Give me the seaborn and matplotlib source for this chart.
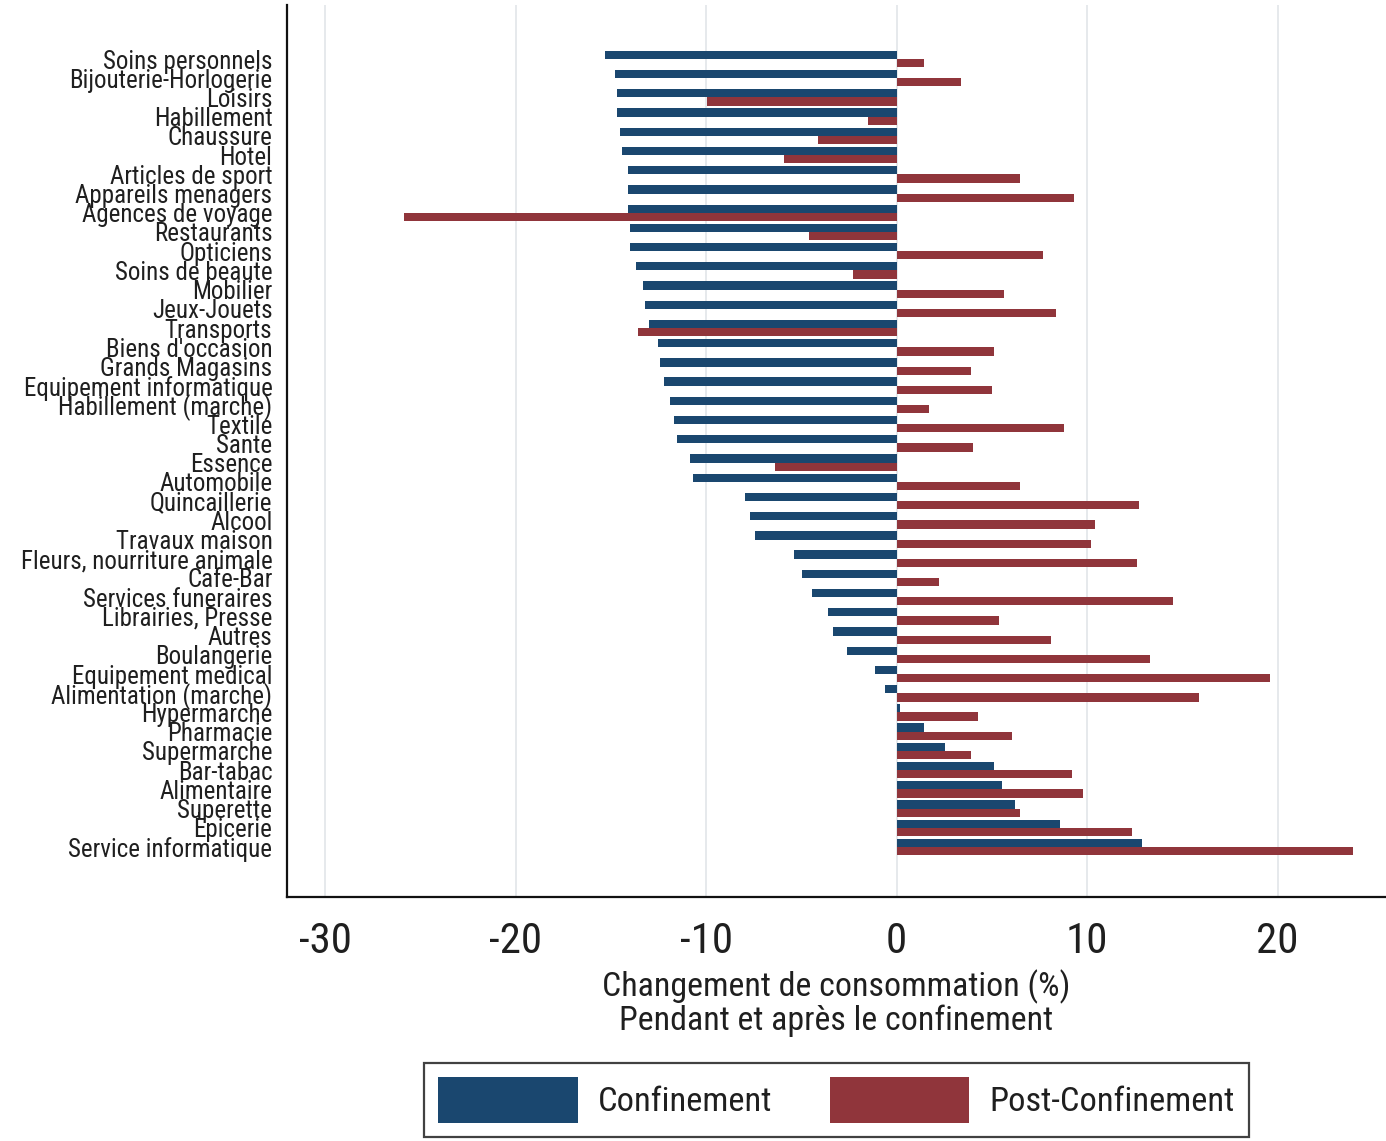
import matplotlib
matplotlib.use("Agg")
import matplotlib.pyplot as plt
from matplotlib import font_manager
import seaborn as sns
import pandas as pd

categories = [
    "Soins personnels", "Bijouterie-Horlogerie", "Loisirs", "Habillement", "Chaussure",
    "Hotel", "Articles de sport", "Appareils menagers", "Agences de voyage", "Restaurants",
    "Opticiens", "Soins de beaute", "Mobilier", "Jeux-Jouets", "Transports",
    "Biens d'occasion", "Grands Magasins", "Equipement informatique", "Habillement (marche)",
    "Textile", "Sante", "Essence", "Automobile", "Quincaillerie", "Alcool",
    "Travaux maison", "Fleurs, nourriture animale", "Cafe-Bar", "Services funeraires",
    "Librairies, Presse", "Autres", "Boulangerie", "Equipement medical",
    "Alimentation (marche)", "Hypermarche", "Pharmacie", "Supermarche", "Bar-tabac",
    "Alimentaire", "Superette", "Epicerie", "Service informatique",
]

confinement = [
    -15.3, -14.8, -14.7, -14.7, -14.5, -14.4, -14.1, -14.1, -14.1, -14.0,
    -14.0, -13.7, -13.3, -13.2, -13.0, -12.5, -12.4, -12.2, -11.9, -11.7,
    -11.55, -10.85, -10.7, -7.96, -7.71, -7.44, -5.38, -4.97, -4.42, -3.59,
    -3.32, -2.63, -1.14, -0.62, 0.18, 1.44, 2.52, 5.13, 5.54, 6.2,
    8.56, 12.9,
]

post_confinement = [
    1.45, 3.36, -9.95, -1.5, -4.1, -5.9, 6.47, 9.32, -25.86, -4.6,
    7.7, -2.3, 5.65, 8.38, -13.6, 5.1, 3.88, 4.99, 1.71, 8.78,
    4.02, -6.4, 6.48, 12.75, 10.41, 10.18, 12.63, 2.22, 14.53, 5.38,
    8.08, 13.32, 19.59, 15.9, 4.28, 6.06, 3.89, 9.22, 9.77, 6.48,
    12.36, 23.96,
]

series_names = ["Confinement", "Post-Confinement"]
series_colors = ["#1A476F", "#90353B"]
xticks = [-30, -20, -10, 0, 10, 20]
xlabel = "Changement de consommation (%)\nPendant et après le confinement"

df = pd.DataFrame({
    "categorie": categories * 2,
    "valeur": confinement + post_confinement,
    "periode": [series_names[0]] * len(categories) + [series_names[1]] * len(categories),
})

sns.set_style("white")
available = {f.name for f in font_manager.fontManager.ttflist}
fam = None
for cand in ["Liberation Sans Narrow", "Roboto Condensed", "Open Sans Condensed",
             "DejaVu Sans Condensed", "Noto Sans Condensed"]:
    if cand in available:
        fam = [cand, "DejaVu Sans"]
        stretch = "normal"
        break
if fam is None:
    fam = ["DejaVu Sans"]
    stretch = "condensed"
plt.rcParams["font.family"] = fam
plt.rcParams["font.stretch"] = stretch
text_color = "#1f1f1f"

fig = plt.figure(figsize=(13.86, 11.41), dpi=100)
ax = fig.add_axes([287 / 1386, 1 - 897 / 1141, 1 - 287 / 1386, (897 - 5) / 1141])

sns.barplot(
    data=df, x="valeur", y="categorie", hue="periode", orient="h",
    palette=dict(zip(series_names, series_colors)), order=categories,
    hue_order=series_names, width=0.86, linewidth=0, saturation=1,
    ax=ax, zorder=3,
)

ax.set_xlim(-32.0, 25.69)
ax.set_ylim(43.6, -2.81)
ax.set_xticks(xticks)
ax.set_xticklabels([str(t) for t in xticks])
ax.xaxis.grid(True, color="#e6e9ec", linewidth=1.4, zorder=0)
ax.yaxis.grid(False)
ax.set_axisbelow(True)

for s in ["top", "right"]:
    ax.spines[s].set_visible(False)
for s in ["left", "bottom"]:
    ax.spines[s].set_color("#111111")
    ax.spines[s].set_linewidth(1.6)

ax.tick_params(axis="x", length=11, width=1.5, color="#111111", pad=6,
               labelsize=31, labelcolor=text_color)
ax.tick_params(axis="y", length=0, pad=10.5, labelsize=18, labelcolor=text_color)
ax.set_ylabel("")
ax.set_xlabel(xlabel, fontsize=24.4, color=text_color, linespacing=1.0, labelpad=6)

handles, labels = ax.get_legend_handles_labels()
ax.get_legend().remove()
leg = fig.legend(
    handles, labels, loc="upper center", bbox_to_anchor=(0.6036, 1 - 1063 / 1141),
    ncol=2, fontsize=24.8, frameon=True, fancybox=False, edgecolor="#111111",
    handlelength=4.04, handleheight=1.65, handletextpad=0.58, columnspacing=1.69,
    borderpad=0.42, borderaxespad=0,
)
leg.get_frame().set_linewidth(1.6)
for t in leg.get_texts():
    t.set_color(text_color)

fig.savefig("out.png", dpi=100, facecolor="white")
